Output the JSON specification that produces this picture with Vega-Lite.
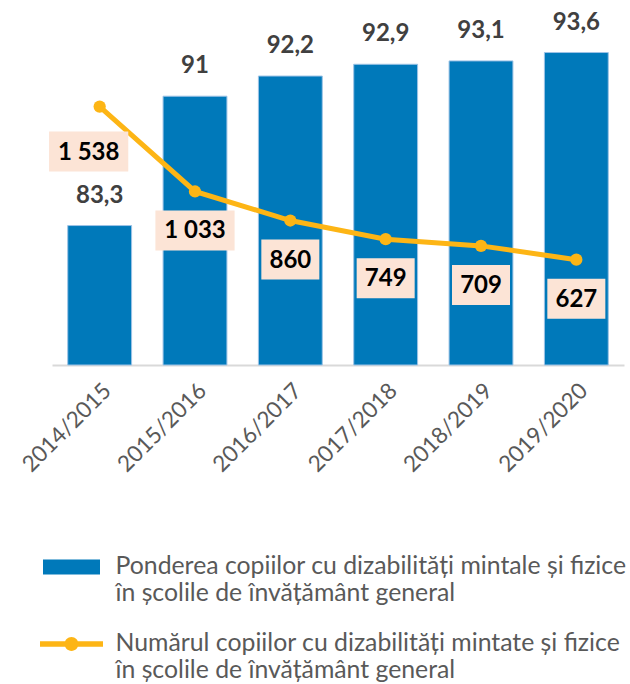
{
  "$schema": "https://vega.github.io/schema/vega-lite/v6.json",
  "autosize": "none",
  "width": 572,
  "height": 336,
  "padding": {"left": 52, "top": 29, "right": 6, "bottom": 319},
  "config": {
    "font": "Lato",
    "view": {"stroke": null},
    "locale": {"number": {"decimal": ",", "thousands": " ", "grouping": [3], "currency": ["", ""]}}
  },
  "data": {
    "values": [
      {"year": "2014/2015", "pct": 83.3, "num": 1538},
      {"year": "2015/2016", "pct": 91, "num": 1033},
      {"year": "2016/2017", "pct": 92.2, "num": 860},
      {"year": "2017/2018", "pct": 92.9, "num": 749},
      {"year": "2018/2019", "pct": 93.1, "num": 709},
      {"year": "2019/2020", "pct": 93.6, "num": 627}
    ]
  },
  "encoding": {
    "x": {
      "field": "year", "type": "nominal", "sort": null,
      "scale": {"paddingInner": 0.33, "paddingOuter": 0.165},
      "axis": {"title": null, "labelAngle": -45, "labelFontSize": 22.5, "labelColor": "#595959", "ticks": false, "domainColor": "#d9d9d9", "domainWidth": 2, "labelPadding": 14}
    }
  },
  "layer": [
    {
      "encoding": {
        "y": {"field": "pct", "type": "quantitative", "scale": {"domain": [75, 95], "zero": false, "nice": false}, "axis": null}
      },
      "layer": [
        {
          "mark": {"type": "bar", "stroke": "#9dc3e6", "strokeWidth": 1},
          "encoding": {
            "y2": {"datum": 75},
            "color": {
              "datum": "Ponderea copiilor cu dizabilități mintale și fizice în școlile de învățământ general",
              "scale": {"range": ["#0079ba"]},
              "legend": {
                "orient": "none", "legendX": -10.5, "legendY": 508, "title": null, "direction": "vertical",
                "labelFontSize": 24.8, "labelColor": "#595959", "labelLimit": 700, "labelOffset": 14, "padding": 0,
                "symbolSize": 3600, "symbolType": "M-0.95,-0.25H0.95V0.25H-0.95Z", "symbolStrokeWidth": 0, "symbolOpacity": 1,
                "labelExpr": "[slice(datum.label, 0, indexof(datum.label, ' în ')), slice(datum.label, indexof(datum.label, ' în ') + 1)]"
              }
            }
          }
        },
        {
          "mark": {"type": "text", "baseline": "alphabetic", "dy": -23, "fontSize": 24, "fontWeight": "bold", "color": "#404040"},
          "encoding": {"text": {"field": "pct", "type": "quantitative", "format": ""}}
        }
      ]
    },
    {
      "encoding": {
        "y": {"field": "num", "type": "quantitative", "scale": {"domain": [0, 2000], "nice": false}, "axis": null}
      },
      "layer": [
        {
          "mark": {"type": "line", "strokeWidth": 5, "color": "#fdb515"},
          "encoding": {}
        },
        {
          "mark": {"type": "circle", "opacity": 1, "size": 150},
          "encoding": {
            "color": {
              "datum": "Numărul copiilor cu dizabilități mintate și fizice în școlile de învățământ general",
              "scale": {"range": ["#fdb515"]},
              "legend": {
                "orient": "none", "legendX": -10.5, "legendY": 585, "title": null, "direction": "vertical",
                "labelFontSize": 24.8, "labelColor": "#595959", "labelLimit": 700, "labelOffset": 14, "padding": 0,
                "symbolSize": 3600, "symbolType": "M-1.05,-0.09H1.05V0.09H-1.05ZM0.23,0A0.23,0.23 0 1,1 -0.23,0A0.23,0.23 0 1,1 0.23,0Z", "symbolStrokeWidth": 0, "symbolOpacity": 1,
                "labelExpr": "[slice(datum.label, 0, indexof(datum.label, ' în ')), slice(datum.label, indexof(datum.label, ' în ') + 1)]"
              }
            }
          }
        },
        {
          "mark": {"type": "point", "filled": true, "color": "#fce4d6", "opacity": 1, "size": 6400,
            "yOffset": {"expr": "datum.num > 1500 ? 45 : 39"},
            "xOffset": {"expr": "datum.num > 1500 ? -11 : 0"}},
          "encoding": {
            "shape": {"condition": {"test": "datum.num >= 1000", "value": "M-0.99,-0.5H0.99V0.5H-0.99Z"}, "value": "M-0.725,-0.5H0.725V0.5H-0.725Z"}
          }
        },
        {
          "mark": {"type": "text", "baseline": "middle", "fontSize": 24, "fontWeight": "bold", "color": "#000000",
            "yOffset": {"expr": "datum.num > 1500 ? 46 : 40"},
            "xOffset": {"expr": "datum.num > 1500 ? -11 : 0"}},
          "encoding": {"text": {"field": "num", "type": "quantitative", "format": ","}}
        }
      ]
    }
  ],
  "resolve": {"scale": {"y": "independent", "color": "independent"}}
}
